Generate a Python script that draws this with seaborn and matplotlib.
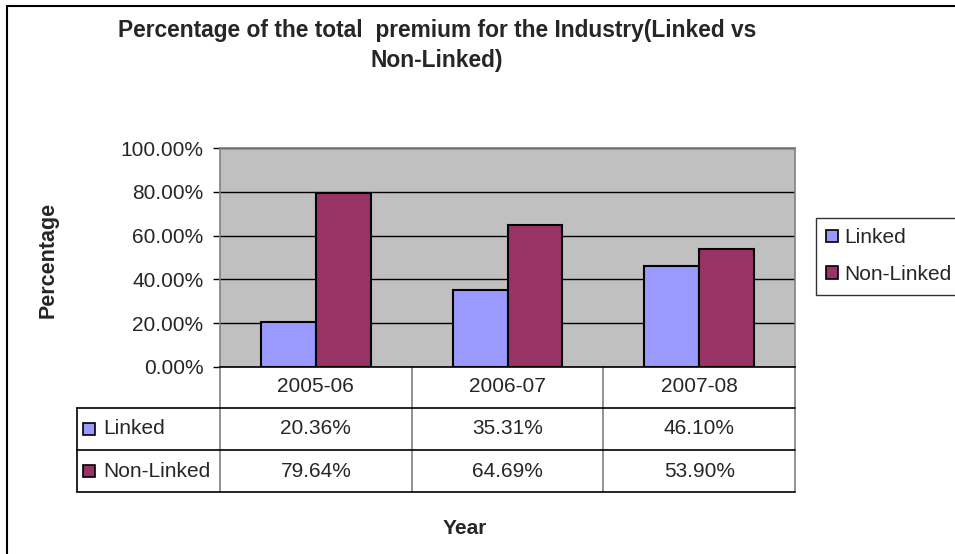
import pandas as pd
import seaborn as sns
import matplotlib.pyplot as plt
from matplotlib.patches import Rectangle
from matplotlib.ticker import FuncFormatter

# Data
years = ["2005-06", "2006-07", "2007-08"]
linked = [20.36, 35.31, 46.10]
non_linked = [79.64, 64.69, 53.90]
series = ["Linked", "Non-Linked"]
colors = ["#9999FF", "#993366"]

df = pd.DataFrame({
    "Year": years * 2,
    "Type": ["Linked"] * 3 + ["Non-Linked"] * 3,
    "Value": [v / 100 for v in linked + non_linked],
})

sns.set_style("white")
plt.rcParams["font.family"] = ["Liberation Sans", "DejaVu Sans"]

W, H = 955, 554
fig = plt.figure(figsize=(W / 100, H / 100), dpi=100)
ax = fig.add_axes([220 / W, 1 - 367 / H, 575 / W, 219 / H])

sns.barplot(
    data=df, x="Year", y="Value", hue="Type",
    palette=colors, saturation=1, edgecolor="black", linewidth=1.5,
    width=0.573, gap=0, ax=ax, legend=False,
)

ax.set_facecolor("#C0C0C0")
ax.set_xlim(-0.5, 2.5)
ax.set_ylim(0, 1)
ax.set_yticks([0, 0.2, 0.4, 0.6, 0.8, 1.0])
ax.yaxis.set_major_formatter(FuncFormatter(lambda v, p: f"{v * 100:.2f}%"))
ax.tick_params(axis="y", length=5, width=1, direction="out", pad=7,
               labelsize=15, left=True, color="black")
ax.set_xticks([])
ax.set_xlabel("")
ax.set_ylabel("")
ax.yaxis.grid(True, color="black", linewidth=1)
ax.set_axisbelow(True)
for side in ["top", "right", "left"]:
    ax.spines[side].set_color("#808080")
    ax.spines[side].set_linewidth(1.2)
ax.spines["bottom"].set_color("black")
ax.spines["bottom"].set_linewidth(1.2)

# Data table under the plot
row_edges = [-0.187, -0.379, -0.571]
x_left = (77 - 220) / 575
tr = ax.get_xaxis_transform()
for xb in [-0.5, 0.5, 1.5, 2.5]:
    ax.plot([xb, xb], [0, row_edges[-1]], transform=tr, color="#808080",
            lw=1.2, clip_on=False)
for yb in row_edges:
    ax.plot([x_left, 1], [yb, yb], transform=ax.transAxes, color="black",
            lw=1.2, clip_on=False)
ax.plot([x_left, x_left], [row_edges[0], row_edges[-1]], transform=ax.transAxes,
        color="black", lw=1.2, clip_on=False)

for i, yr in enumerate(years):
    ax.text(i, -0.091, yr, transform=tr, ha="center", va="center", fontsize=15)
    ax.text(i, -0.283, f"{linked[i]:.2f}%", transform=tr, ha="center",
            va="center", fontsize=15)
    ax.text(i, -0.475, f"{non_linked[i]:.2f}%", transform=tr, ha="center",
            va="center", fontsize=15)

for name, col, yc in zip(series, colors, [-0.283, -0.475]):
    ax.add_patch(Rectangle((x_left + 6 / 575, yc - 0.028), 12 / 575, 0.056,
                           transform=ax.transAxes, facecolor=col,
                           edgecolor="black", lw=1.2, clip_on=False))
    ax.text(x_left + 26 / 575, yc, name, transform=ax.transAxes,
            ha="left", va="center", fontsize=15)

# Legend
handles = [Rectangle((0, 0), 1, 1, facecolor=c, edgecolor="black", lw=1.2)
           for c in colors]
leg = fig.legend(handles, series, loc="upper left",
                 bbox_to_anchor=(816 / W, 1 - 218 / H), fontsize=15,
                 frameon=True, fancybox=False, edgecolor="black",
                 handlelength=0.55, handleheight=0.55, handletextpad=0.3,
                 borderpad=0.5, labelspacing=0.85, borderaxespad=0)
leg.get_frame().set_linewidth(1)

# Titles and axis labels
fig.text(437 / W, 1 - 31 / H,
         "Percentage of the total  premium for the Industry(Linked vs",
         ha="center", va="center", fontsize=16.4, fontweight="bold")
fig.text(437 / W, 1 - 61 / H, "Non-Linked)", ha="center", va="center",
         fontsize=16.4, fontweight="bold")
fig.text(48 / W, 1 - 260 / H, "Percentage", rotation=90, ha="center",
         va="center", fontsize=15.5, fontweight="bold")
fig.text(465 / W, 1 - 528 / H, "Year", ha="center", va="center",
         fontsize=15, fontweight="bold")

# Outer chart border
fig.add_artist(Rectangle((7 / W, -0.05), 1.1, 1 - 6 / H + 0.05,
                         transform=fig.transFigure, fill=False,
                         edgecolor="black", lw=1.5))

fig.savefig("out.png", dpi=100)
